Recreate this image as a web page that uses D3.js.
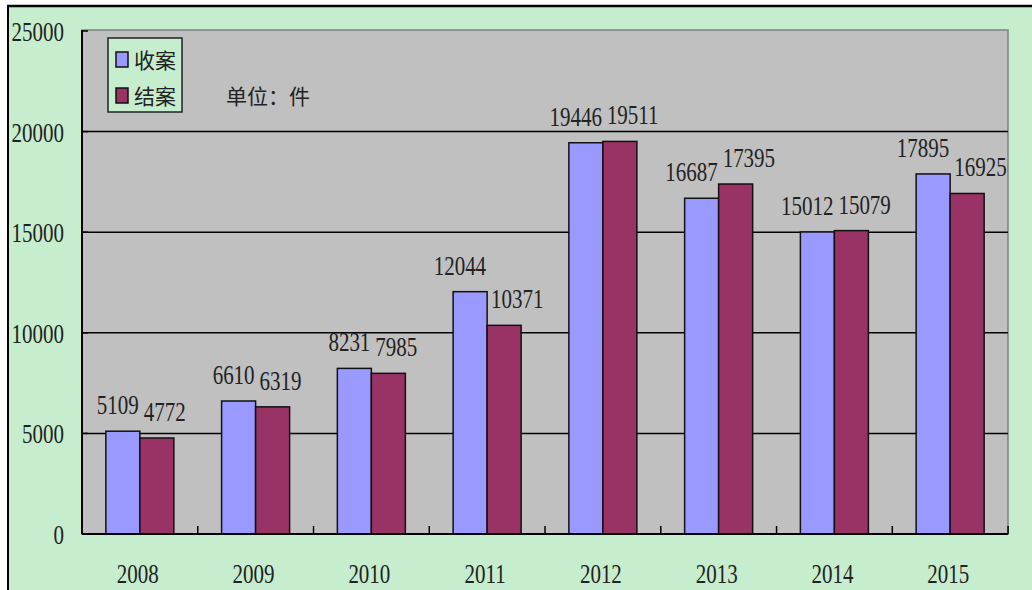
<!DOCTYPE html>
<meta charset="utf-8">
<html>
<style>
 body { margin:0; background:#fff; }
 svg { display:block; }
 .num { font-family:"Liberation Serif", "DejaVu Serif", serif; font-size:28px; fill:#222; }
 .cjk { font-family:"Noto Sans CJK SC", sans-serif; font-size:21px; fill:#222; }
</style>
<script src="https://d3js.org/d3.v7.min.js"></script>
<svg width="1032" height="590"></svg>
<script>
const years = ["2008","2009","2010","2011","2012","2013","2014","2015"];
const seriesNames = ["收案","结案"];
const shouAn = [5109, 6610, 8231, 12044, 19446, 16687, 15012, 17895];
const jieAn = [4772, 6319, 7985, 10371, 19511, 17395, 15079, 16925];
const yTicks = [0, 5000, 10000, 15000, 20000, 25000];
const colors = ["#9999FF", "#993366"];

const svg = d3.select('svg');
const plotL = 82, plotR = 1008, plotT = 31, plotB = 534;
const squeeze = 0.75;

// background
svg.append('rect').attr('x',8).attr('y',6).attr('width',1032).attr('height',590).attr('fill','#C6EDCD');
svg.append('line').attr('x1',7).attr('x2',1032).attr('y1',6).attr('y2',6).attr('stroke','#000').attr('stroke-width',2.5);
svg.append('line').attr('x1',8).attr('x2',8).attr('y1',5).attr('y2',590).attr('stroke','#000').attr('stroke-width',2);

const x = d3.scaleBand().domain(years).range([plotL,plotR]).paddingInner(0.4125).paddingOuter(0.206);
const x1 = d3.scaleBand().domain(seriesNames).range([0,x.bandwidth()]);
const y = d3.scaleLinear().domain([0,25000]).range([plotB,plotT]);

// plot area
svg.append('rect').attr('x',plotL).attr('y',plotT-1).attr('width',plotR-plotL).attr('height',plotB-plotT+1)
	.attr('fill','#C0C0C0').attr('stroke','#808080').attr('stroke-width',1.5);

// gridlines
svg.append('g').selectAll('line').data(yTicks.filter(d=>d>0 && d<25000)).join('line')
	.attr('x1',plotL).attr('x2',plotR).attr('y1',d=>y(d)).attr('y2',d=>y(d))
	.attr('stroke','#000').attr('stroke-width',1.5);

// y labels
svg.append('g').selectAll('text').data(yTicks).join('text')
	.attr('class','num')
	.attr('text-anchor','end')
	.attr('transform',d=>`translate(64,${y(d)+10}) scale(${squeeze},1)`)
	.text(d=>d);

// y ticks
svg.append('g').selectAll('line').data(yTicks).join('line')
	.attr('x1',plotL).attr('x2',plotL+6).attr('y1',d=>y(d)).attr('y2',d=>y(d))
	.attr('stroke','#000').attr('stroke-width',1.5);

// bars
const rows = years.map((yr,i)=>({year:yr, vals:[shouAn[i], jieAn[i]]}));
const groups = svg.append('g').selectAll('g').data(rows).join('g')
	.attr('transform',d=>`translate(${x(d.year)},0)`);

const cells = d=>d.vals.map((v,j)=>({name:seriesNames[j], v, j}));

groups.selectAll('rect').data(cells).join('rect')
	.attr('x',d=>x1(d.name))
	.attr('y',d=>y(d.v))
	.attr('width',x1.bandwidth())
	.attr('height',d=>plotB-y(d.v))
	.attr('fill',d=>colors[d.j])
	.attr('stroke','#111')
	.attr('stroke-width',1.5);

// value labels: 收案 ends at the group middle, 结案 starts just after it
const mid = x.bandwidth()/2;
groups.selectAll('text').data(cells).join('text')
	.attr('class','num')
	.attr('text-anchor',d=>d.j===0?'end':'start')
	.attr('transform',d=>`translate(${d.j===0?mid-1:mid+4},${y(d.v)-17}) scale(${squeeze},1)`)
	.text(d=>d.v);

// axes lines
svg.append('line').attr('x1',plotL).attr('x2',plotL).attr('y1',plotT-1).attr('y2',plotB).attr('stroke','#000').attr('stroke-width',2);
svg.append('line').attr('x1',plotL).attr('x2',plotR).attr('y1',plotB).attr('y2',plotB).attr('stroke','#000').attr('stroke-width',2);

// x ticks at band boundaries
const step = x.step();
svg.append('g').selectAll('line').data(d3.range(1,years.length+1)).join('line')
	.attr('x1',d=>plotL+step*d).attr('x2',d=>plotL+step*d)
	.attr('y1',plotB).attr('y2',plotB-8)
	.attr('stroke','#000').attr('stroke-width',1.5);

// x labels
svg.append('g').selectAll('text').data(years).join('text')
	.attr('class','num')
	.attr('text-anchor','middle')
	.attr('transform',d=>`translate(${x(d)+x.bandwidth()/2-2},583) scale(${squeeze},1)`)
	.text(d=>d);

// legend
const lg = svg.append('g');
lg.append('rect').attr('x',108).attr('y',38).attr('width',74).attr('height',74)
	.attr('fill','#C6EDCD').attr('stroke','#222').attr('stroke-width',1.5);
seriesNames.forEach((n,i)=>{
	lg.append('rect').attr('x',116).attr('y',52+i*36).attr('width',12).attr('height',15)
		.attr('fill',colors[i]).attr('stroke','#111').attr('stroke-width',1.5);
	lg.append('text').attr('class','cjk').attr('x',134).attr('y',68+i*36).text(n);
});

svg.append('text').attr('class','cjk').attr('x',226).attr('y',104).text('单位：件');
</script>
</html>
